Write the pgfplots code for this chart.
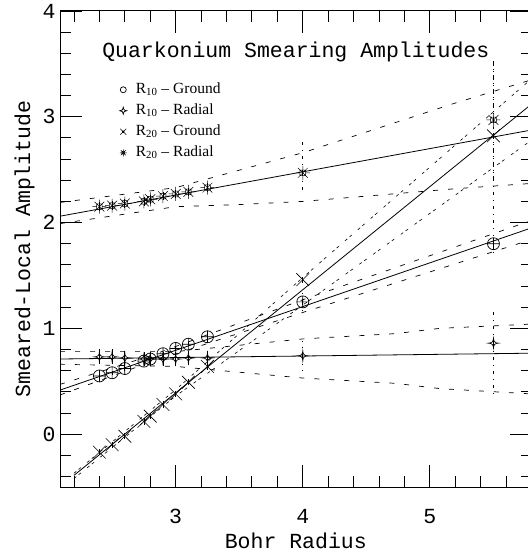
\documentclass[border=0pt]{standalone}
\usepackage{fontspec}
\setmainfont{Liberation Serif}
\newfontfamily\hersh{Liberation Mono}
\usepackage{pgfplots}
\pgfplotsset{compat=1.18}
\usepackage{pgfplotstable}
\usetikzlibrary{calc}

% four-pointed star (R10 radial)
\pgfdeclareplotmark{fourstar}{%
  \pgfpathmoveto{\pgfqpoint{0pt}{\pgfplotmarksize}}%
  \pgfpathquadraticcurveto{\pgfqpoint{0pt}{0pt}}{\pgfqpoint{\pgfplotmarksize}{0pt}}%
  \pgfpathquadraticcurveto{\pgfqpoint{0pt}{0pt}}{\pgfqpoint{0pt}{-\pgfplotmarksize}}%
  \pgfpathquadraticcurveto{\pgfqpoint{0pt}{0pt}}{\pgfqpoint{-\pgfplotmarksize}{0pt}}%
  \pgfpathquadraticcurveto{\pgfqpoint{0pt}{0pt}}{\pgfqpoint{0pt}{\pgfplotmarksize}}%
  \pgfpathclose\pgfusepathqstroke}
% x with small box (R20 ground)
\pgfdeclareplotmark{xbox}{%
  \pgfpathmoveto{\pgfqpoint{-\pgfplotmarksize}{-\pgfplotmarksize}}%
  \pgfpathlineto{\pgfqpoint{\pgfplotmarksize}{\pgfplotmarksize}}%
  \pgfpathmoveto{\pgfqpoint{-\pgfplotmarksize}{\pgfplotmarksize}}%
  \pgfpathlineto{\pgfqpoint{\pgfplotmarksize}{-\pgfplotmarksize}}%
  \pgfpathrectanglecorners{\pgfqpoint{-0.3\pgfplotmarksize}{-0.3\pgfplotmarksize}}{\pgfqpoint{0.3\pgfplotmarksize}{0.3\pgfplotmarksize}}%
  \pgfusepathqstroke}
% eight-spoke asterisk with small box (R20 radial)
\pgfdeclareplotmark{ast8}{%
  \pgfpathmoveto{\pgfqpoint{-\pgfplotmarksize}{0pt}}\pgfpathlineto{\pgfqpoint{-0.4\pgfplotmarksize}{0pt}}%
  \pgfpathmoveto{\pgfqpoint{0.4\pgfplotmarksize}{0pt}}\pgfpathlineto{\pgfqpoint{\pgfplotmarksize}{0pt}}%
  \pgfpathmoveto{\pgfqpoint{0pt}{-\pgfplotmarksize}}\pgfpathlineto{\pgfqpoint{0pt}{-0.4\pgfplotmarksize}}%
  \pgfpathmoveto{\pgfqpoint{0pt}{0.4\pgfplotmarksize}}\pgfpathlineto{\pgfqpoint{0pt}{\pgfplotmarksize}}%
  \pgfpathmoveto{\pgfqpoint{-0.7\pgfplotmarksize}{-0.7\pgfplotmarksize}}\pgfpathlineto{\pgfqpoint{0.7\pgfplotmarksize}{0.7\pgfplotmarksize}}%
  \pgfpathmoveto{\pgfqpoint{-0.7\pgfplotmarksize}{0.7\pgfplotmarksize}}\pgfpathlineto{\pgfqpoint{0.7\pgfplotmarksize}{-0.7\pgfplotmarksize}}%
  \pgfpathrectanglecorners{\pgfqpoint{-0.4\pgfplotmarksize}{-0.4\pgfplotmarksize}}{\pgfqpoint{0.4\pgfplotmarksize}{0.4\pgfplotmarksize}}%
  \pgfusepathqstroke}

% R10 ground
\pgfplotstableread{
x y e
2.4 0.55 0.02
2.5 0.58 0.02
2.6 0.62 0.02
2.75 0.69 0.02
2.8 0.71 0.02
2.9 0.76 0.02
3.0 0.81 0.02
3.1 0.85 0.02
3.25 0.92 0.03
}\rtengA
\pgfplotstableread{
x y e
4.0 1.25 0.08
5.5 1.80 0.10
}\rtengB
% R10 radial
\pgfplotstableread{
x y ep em
2.4 0.73 0.07 0.07
2.5 0.73 0.07 0.07
2.6 0.72 0.07 0.07
2.75 0.71 0.07 0.07
2.8 0.71 0.07 0.07
2.9 0.71 0.07 0.07
3.0 0.71 0.07 0.07
3.1 0.72 0.07 0.07
3.25 0.72 0.07 0.07
}\rtenrA
\pgfplotstableread{
x y ep em
4.0 0.74 0.14 0.14
5.5 0.86 0.30 0.50
}\rtenrB
% R20 ground
\pgfplotstableread{
x y ep em
2.4 -0.17 0.03 0.03
2.5 -0.10 0.03 0.03
2.6 -0.02 0.03 0.03
2.75 0.12 0.03 0.03
2.8 0.17 0.03 0.03
2.9 0.28 0.03 0.03
3.0 0.38 0.03 0.03
3.1 0.49 0.03 0.03
3.25 0.64 0.03 0.03
}\rtwgA
\pgfplotstableread{
x y ep em
4.0 1.46 0.05 0.05
5.5 2.82 0.73 0.92
}\rtwgB
% R20 radial
\pgfplotstableread{
x y ep em
2.4 2.15 0.04 0.04
2.5 2.16 0.04 0.04
2.6 2.18 0.04 0.04
2.75 2.20 0.04 0.04
2.8 2.22 0.04 0.04
2.9 2.25 0.04 0.04
3.0 2.27 0.04 0.04
3.1 2.29 0.04 0.04
3.25 2.33 0.04 0.04
}\rtwrA
\pgfplotstableread{
x y ep em
4.0 2.47 0.34 0.19
5.5 2.97 0.58 0.58
}\rtwrB

\tikzset{
  fitline/.style={black, line width=0.8bp},
  band/.style={black, line width=0.7bp, dash pattern=on 5bp off 10bp},
  bandc/.style={black, line width=0.6bp, dash pattern=on 3bp off 3bp on 3bp off 8bp},
}
\pgfplotsset{
  pts/.style={only marks, forget plot, black, mark options={line width=0.7bp, solid},
    error bars/y dir=both, error bars/y explicit, error bars/error mark=none,
    error bars/error bar style={line width=0.7bp, solid}},
  ptsfar/.style={only marks, forget plot, black, mark options={line width=0.7bp, solid},
    error bars/y dir=both, error bars/y explicit, error bars/error mark=none,
    error bars/error bar style={line width=0.7bp, dash pattern=on 3bp off 5bp on 1bp off 5bp}},
}
\newcommand{\legdash}{\hspace{4bp}--\hspace{4bp}}

\begin{document}
\begin{tikzpicture}
\begin{axis}[name=ax,
  scale only axis, width=471.6bp, height=476bp,
  xmin=2.09, xmax=5.8, ymin=-0.5, ymax=4,
  xtick={3,4,5}, ytick={0,1,2,3,4},
  minor xtick={2.2,2.4,...,5.8}, minor ytick={-0.4,-0.2,...,3.8},
  major tick length=22bp, minor tick length=11bp,
  tick style={black, line width=0.9bp},
  axis line style={line width=1bp},
  tick label style={font=\hersh\fontsize{21.5bp}{24bp}\selectfont},
  /pgf/number format/assume math mode=true,
  xticklabel style={yshift=-19bp},
  yticklabel style={xshift=-1bp},
  xlabel={Bohr Radius},
  xlabel style={at={($(rel axis cs:0.5,0)+(0,-61bp)$)}, anchor=base, font=\hersh\fontsize{21.5bp}{24bp}\selectfont},
  ylabel={Smeared-Local Amplitude},
  ylabel style={at={($(rel axis cs:0,0.5)+(-30bp,0)$)}, anchor=base, font=\hersh\fontsize{21.5bp}{24bp}\selectfont},
  legend style={at={(0.12,0.857)}, anchor=north west, draw=none, fill=none,
    font=\fontsize{15.5bp}{18bp}\selectfont, row sep=4bp,
    nodes={inner sep=1bp, text height=11bp, text depth=4bp},
    /tikz/every odd column/.append style={column sep=8bp}},
  legend cell align=left,
]
\addlegendimage{only marks, mark=o, mark size=3bp, mark options={line width=0.7bp}}
\addlegendentry{R\textsubscript{10}\legdash Ground}
\addlegendimage{only marks, mark=fourstar, mark size=3.5bp, mark options={line width=0.7bp}}
\addlegendentry{R\textsubscript{10}\legdash Radial}
\addlegendimage{only marks, mark=xbox, mark size=3bp, mark options={line width=0.6bp}}
\addlegendentry{R\textsubscript{20}\legdash Ground}
\addlegendimage{only marks, mark=ast8, mark size=3.5bp, mark options={line width=0.5bp}}
\addlegendentry{R\textsubscript{20}\legdash Radial}

% fits
\addplot[fitline, forget plot] coordinates {(2.09,0.416) (5.8,1.95)};
\addplot[fitline, forget plot] coordinates {(2.09,0.71) (5.8,0.765)};
\addplot[fitline, forget plot] coordinates {(2.2,-0.39) (5.8,3.12)};
\addplot[fitline, forget plot] coordinates {(2.09,2.06) (5.8,2.875)};
% bands R10 ground
\addplot[band, forget plot] coordinates {(2.09,0.47) (2.8,0.74) (4.0,1.27) (5.8,2.02)};
\addplot[band, forget plot] coordinates {(2.09,0.37) (2.8,0.68) (4.0,1.15) (5.8,1.84)};
% bands R10 radial
\addplot[band, forget plot] coordinates {(2.09,0.78) (3.0,0.78) (4.0,0.90) (4.73,0.95) (5.08,1.0) (5.8,1.04)};
\addplot[band, forget plot] coordinates {(2.09,0.66) (3.0,0.64) (4.0,0.53) (4.73,0.48) (5.08,0.43) (5.8,0.38)};
% bands R20 ground
\addplot[bandc, forget plot] coordinates {(2.2,-0.37) (3.0,0.42) (4.0,1.48) (5.8,3.36)};
\addplot[bandc, forget plot] coordinates {(2.2,-0.42) (3.0,0.36) (4.0,1.22) (5.8,2.78)};
% bands R20 radial
\addplot[band, forget plot] coordinates {(2.09,2.19) (3.0,2.33) (4.0,2.66) (5.2,3.13) (5.8,3.35)};
\addplot[band, forget plot] coordinates {(2.09,1.99) (3.0,2.15) (3.5,2.17) (4.0,2.20) (5.2,2.32) (5.8,2.37)};

% points
\addplot[pts, mark=oplus, mark size=6bp] table[x=x, y=y, y error=e] {\rtengA};
\addplot[ptsfar, mark=oplus, mark size=6bp] table[x=x, y=y, y error=e] {\rtengB};
\addplot[pts, mark=fourstar, mark size=5bp] table[x=x, y=y, y error plus=ep, y error minus=em] {\rtenrA};
\addplot[ptsfar, mark=fourstar, mark size=5bp] table[x=x, y=y, y error plus=ep, y error minus=em] {\rtenrB};
\addplot[pts, mark=x, mark size=9bp, mark options={line width=0.6bp}] table[x=x, y=y, y error plus=ep, y error minus=em] {\rtwgA};
\addplot[ptsfar, mark=x, mark size=9bp, mark options={line width=0.6bp}] table[x=x, y=y, y error plus=ep, y error minus=em] {\rtwgB};
\addplot[pts, mark=ast8, mark size=7bp, mark options={line width=0.5bp}] table[x=x, y=y, y error plus=ep, y error minus=em] {\rtwrA};
\addplot[ptsfar, mark=ast8, mark size=7bp, mark options={line width=0.5bp}] table[x=x, y=y, y error plus=ep, y error minus=em] {\rtwrB};

\node[font=\hersh\fontsize{21.5bp}{24bp}\selectfont, anchor=base] at (rel axis cs:0.5,0.903) {Quarkonium Smearing Amplitudes};
\end{axis}
\pgfresetboundingbox
\path[use as bounding box] ($(ax.south west)+(-60bp,-69bp)$) rectangle ($(ax.south west)+(468bp,487bp)$);
\end{tikzpicture}
\end{document}
